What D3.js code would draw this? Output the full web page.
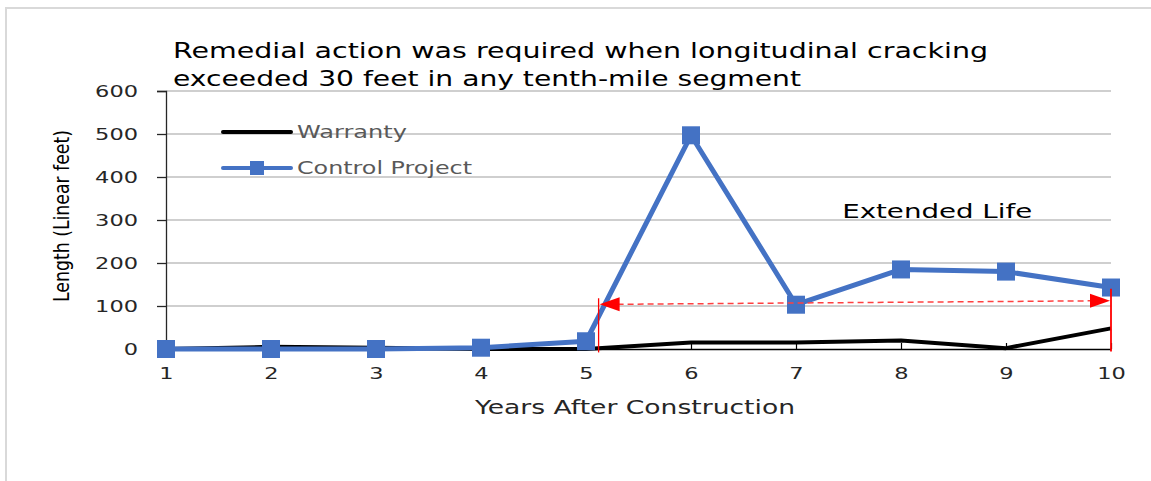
<!DOCTYPE html>
<html>
<head>
<meta charset="utf-8">
<script src="https://cdn.jsdelivr.net/npm/d3@7"></script>
<style>
  body { margin:0; background:#fff; }
  svg text { font-family: "DejaVu Sans", Verdana, sans-serif; }
</style>
</head>
<body>
<div id="chart"></div>
<script>
// data
var years = [1,2,3,4,5,6,7,8,9,10];
var warranty = [0,5,3,0,0,15,15,20,2,48];
var control = [0,0,0,3,18,497,103,185,180,143];
var yTicks = [0,100,200,300,400,500,600];
var extStart = 5.12, extEnd = 10;   // red markers on the x axis
var arrowLevel = [104, 112];         // dashed arrow height at each end

var W = 1151, H = 481;
var margin = {top:91, right:40, bottom:131, left:166},
w = 1111 - margin.left,
h = 349 - margin.top;

// the picture is stretched sideways, so text is fitted to the widths seen there
function fit(sel, len) {
  return sel.attr("textLength", len).attr("lengthAdjust", "spacingAndGlyphs");
}

var svg = d3.select("#chart").append("svg")
  .attr("width", W).attr("height", H);

// outer frame, light gray
svg.append("path")
  .attr("d", "M6,481 V8 H1151")
  .attr("fill", "none").attr("stroke", "#d9d9d9").attr("stroke-width", 2);

var g = svg.append("g").attr("transform", `translate(${margin.left},${margin.top})`);

var x = d3.scaleLinear().domain([1,10]).range([0, w]);
var y = d3.scaleLinear().domain([0,600]).range([h, 0]);

// gridlines
g.selectAll(".grid").data(yTicks.filter(d => d > 0)).enter()
  .append("line")
  .attr("x1", 0).attr("x2", w)
  .attr("y1", d => y(d)).attr("y2", d => y(d))
  .attr("stroke", "#bfbfbf").attr("stroke-width", 1.3);

// y axis
var yAxis = g.append("g")
  .call(d3.axisLeft(y).tickValues(yTicks).tickSize(9).tickPadding(19));
yAxis.select(".domain").attr("stroke", "#262626").attr("stroke-width", 1.3);
yAxis.selectAll(".tick line").attr("stroke", "#262626").attr("stroke-width", 1.3);
yAxis.selectAll("text").attr("font-size", 16).attr("fill", "#262626")
  .attr("font-family", "DejaVu Sans, sans-serif")
  .each(function(d) { fit(d3.select(this), String(d).length * 14.3); });

// x axis, ticks point inward
var xAxis = g.append("g").attr("transform", `translate(0,${h})`)
  .call(d3.axisBottom(x).tickValues(years).tickSizeInner(-6).tickSizeOuter(0).tickPadding(19));
xAxis.select(".domain").attr("stroke", "#000").attr("stroke-width", 1.3);
xAxis.selectAll(".tick line").attr("stroke", "#000").attr("stroke-width", 1.2);
xAxis.selectAll("text").attr("font-size", 16).attr("fill", "#262626")
  .attr("font-family", "DejaVu Sans, sans-serif")
  .each(function(d) { fit(d3.select(this), String(d).length * 14.3); });

var line = d3.line().x((d,i) => x(years[i])).y(d => y(d));

// warranty series
g.append("path").datum(warranty)
  .attr("d", line).attr("fill", "none")
  .attr("stroke", "#000").attr("stroke-width", 4).attr("stroke-linejoin", "round");

// control project series
g.append("path").datum(control)
  .attr("d", line).attr("fill", "none")
  .attr("stroke", "#4472C4").attr("stroke-width", 5).attr("stroke-linejoin", "round");
g.selectAll(".mk").data(control).enter().append("rect")
  .attr("x", (d,i) => x(years[i]) - 9).attr("y", d => y(d) - 9)
  .attr("width", 18).attr("height", 18).attr("fill", "#4472C4");

// red annotation
var red = "#ff0000";
g.append("line")
  .attr("x1", x(extStart)).attr("x2", x(extStart))
  .attr("y1", y(-8)).attr("y2", y(118))
  .attr("stroke", red).attr("stroke-width", 1.3);
g.append("line")
  .attr("x1", x(extEnd)).attr("x2", x(extEnd))
  .attr("y1", y(-6)).attr("y2", y(140))
  .attr("stroke", red).attr("stroke-width", 1.8);
var ax1 = x(extStart) + 1, ay1 = y(arrowLevel[0]),
    ax2 = x(extEnd) - 1, ay2 = y(arrowLevel[1]);
g.append("line")
  .attr("x1", ax1 + 18).attr("y1", ay1).attr("x2", ax2 - 18).attr("y2", ay2)
  .attr("stroke", "#ff4040").attr("stroke-width", 1.5).attr("stroke-dasharray", "6,4");
g.append("path")
  .attr("d", `M${ax1},${ay1} L${ax1+20},${ay1-7} L${ax1+20},${ay1+7} Z`).attr("fill", red);
g.append("path")
  .attr("d", `M${ax2},${ay2} L${ax2-20},${ay2-7} L${ax2-20},${ay2+7} Z`).attr("fill", red);

fit(g.append("text").attr("x", x(7.44)).attr("y", y(304))
  .attr("font-size", 20).attr("fill", "#000").text("Extended Life"), 190);

// legend
var lg = svg.append("g");
lg.append("line").attr("x1", 223).attr("x2", 291).attr("y1", 132).attr("y2", 132)
  .attr("stroke", "#000").attr("stroke-width", 4).attr("stroke-linecap", "round");
fit(lg.append("text").attr("x", 297).attr("y", 138).attr("font-size", 18)
  .attr("fill", "#595959").text("Warranty"), 110);
lg.append("line").attr("x1", 223).attr("x2", 291).attr("y1", 168).attr("y2", 168)
  .attr("stroke", "#4472C4").attr("stroke-width", 4).attr("stroke-linecap", "round");
lg.append("rect").attr("x", 250).attr("y", 161).attr("width", 14).attr("height", 14).attr("fill", "#4472C4");
fit(lg.append("text").attr("x", 297).attr("y", 174).attr("font-size", 18)
  .attr("fill", "#595959").text("Control Project"), 175);

// title
fit(svg.append("text").attr("x", 173).attr("y", 58).attr("font-size", 21).attr("fill", "#000")
  .text("Remedial action was required when longitudinal cracking"), 815);
fit(svg.append("text").attr("x", 173).attr("y", 86).attr("font-size", 21).attr("fill", "#000")
  .text("exceeded 30 feet in any tenth-mile segment"), 628);

// axis titles
fit(svg.append("text").attr("x", 475).attr("y", 414)
  .attr("font-size", 19).attr("fill", "#262626").text("Years After Construction"), 320);
fit(svg.append("text").attr("transform", "translate(69,216) rotate(-90)")
  .attr("x", -86).attr("font-size", 21).attr("fill", "#000")
  .text("Length (Linear feet)"), 172);
</script>
</body>
</html>
